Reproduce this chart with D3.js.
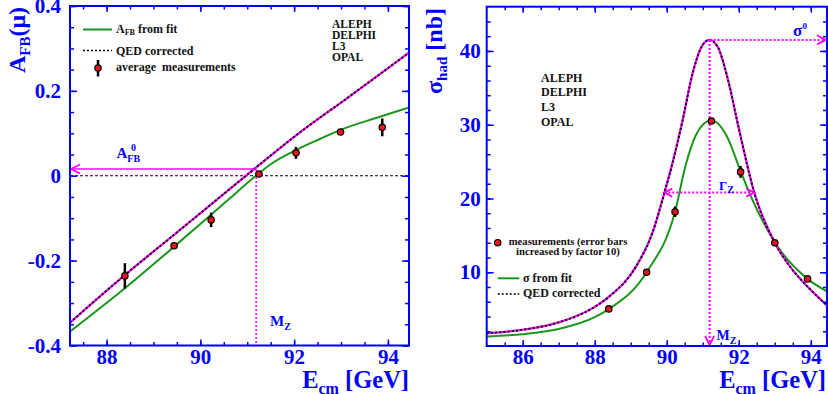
<!DOCTYPE html>
<html>
<head>
<meta charset="utf-8">
<script src="https://cdn.jsdelivr.net/npm/d3@7"></script>
<style>
body { margin: 0; background: #fff; }
svg { display: block; }
</style>
</head>
<body>
<script>
// ---- data ----
// left panel: forward-backward asymmetry of muons
var afbE   = [88.39, 89.44, 90.23, 91.25, 92.04, 92.99, 93.88];
var afbVal = [-0.236, -0.165, -0.104, 0.004, 0.054, 0.103, 0.114];
var afbErr = [0.030, 0.006, 0.017, 0.004, 0.014, 0.005, 0.021];

var afbFitE = [87.22, 88.39, 89.44, 90.63, 91.165, 91.485, 92.05, 92.55, 92.99, 93.83, 94.45];
var afbFitV = [-0.367, -0.265, -0.167, -0.053, -0.002, 0.026, 0.061, 0.0866, 0.108, 0.139, 0.161];

var afbQedE = [87.22, 88.39, 89.44, 90.3, 91.165, 92.05, 93.12, 94.45];
var afbQedV = [-0.346, -0.234, -0.139, -0.061, 0.0175, 0.096, 0.182, 0.29];

// right panel: hadronic cross section
var sigE   = [88.39, 89.44, 90.23, 91.24, 92.05, 93.0, 93.91];
var sigVal = [5.03, 10.0, 18.2, 30.5, 23.6, 14.0, 9.1];
var sigErr = [0.1, 0.15, 0.7, 0.3, 0.8, 0.2, 0.2];

var sigFitE = [85.0, 86.0, 87.0, 88.0, 88.39, 89.44, 90.23, 90.53, 90.81, 91.0, 91.25, 91.64, 92.06, 92.38, 93.0, 93.91, 94.45];
var sigFitV = [1.3, 1.6, 2.3, 3.9, 5.0, 10.0, 18.2, 24.6, 28.6, 30.0, 30.6, 28.7, 23.6, 19.8, 14.05, 9.1, 7.4];

var sigQedE = [85.0, 86.0, 87.0, 88.0, 88.4, 89.15, 89.6, 89.93, 90.16, 90.44, 90.72, 90.95, 91.18, 91.41, 91.69, 92.01, 92.43, 93.0, 93.45, 93.91, 94.45];
var sigQedV = [1.73, 2.2, 3.2, 5.3, 6.7, 10.8, 15.3, 20.7, 24.8, 30.6, 37.0, 40.4, 41.5, 40.6, 36.3, 29.3, 20.8, 14.0, 10.6, 8.05, 5.5];

// annotation values
var MZ = 91.19;
var AFB0 = 0.016;
var SIG0 = 41.5;
var gammaLo = 89.93, gammaHi = 92.43, halfMax = 20.8;

// ticks
var afbMajor = [-0.4, -0.2, 0, 0.2, 0.4];
var afbLabels = ["-0.4", "-0.2", "0", "0.2", "0.4"];
var afbMinor = d3.range(-0.4, 0.401, 0.05);
var eMajorL = [88, 90, 92, 94];
var eMajorR = [86, 88, 90, 92, 94];
var eMinorL = d3.range(87.5, 94.01, 0.5);
var eMinorR = d3.range(85.5, 94.01, 0.5);
var sigMajor = [10, 20, 30, 40];
var sigMinor = d3.range(2, 45, 2);

var experiments = ["ALEPH", "DELPHI", "L3", "OPAL"];

// ---- style ----
var BLUE = "#0000ff", MAG = "#ff00ff", GREEN = "#1a961a", RED = "#e8141c";
var FONT = "'Liberation Serif','Times New Roman',serif";

var svg = d3.select("body").append("svg").attr("width", 828).attr("height", 394);

var xL = d3.scaleLinear().domain([87.22, 94.45]).range([70, 409]);
var yL = d3.scaleLinear().domain([-0.4, 0.4]).range([345.5, 6]);
var xR = d3.scaleLinear().domain([85, 94.45]).range([486.7, 827]);
var yR = d3.scaleLinear().domain([0, 46]).range([346, 6.7]);

var translate = function(x, y) { return "translate(" + x + "," + y + ")"; };

var drawAxis = function(axis, x, y, fmt, pad) {
	axis.tickFormat(fmt || "").tickPadding(pad || 0);
	var g = svg.append("g").attr("transform", translate(x, y)).call(axis);
	g.select(".domain").remove();
	g.selectAll("line").attr("stroke", BLUE).attr("stroke-width", 1.5);
	g.attr("font-family", FONT).attr("font-size", 21).attr("font-weight", "bold");
	g.selectAll("text").attr("fill", BLUE);
	return g;
};

var clip = function(id, xs, ys) {
	svg.append("clipPath").attr("id", id).append("rect")
		.attr("x", xs.range()[0]).attr("y", ys.range()[1])
		.attr("width", xs.range()[1] - xs.range()[0])
		.attr("height", ys.range()[0] - ys.range()[1]);
};
clip("clipL", xL, yL);
clip("clipR", xR, yR);

var curve = function(parent, xs, ys, es, vs) {
	var line = d3.line().x(function(d) { return xs(d[0]); }).y(function(d) { return ys(d[1]); })
		.curve(d3.curveMonotoneX);
	return parent.append("path").datum(d3.zip(es, vs)).attr("d", line).attr("fill", "none");
};

// QED curves: magenta solid with black dots on top
var qedCurve = function(parent, xs, ys, es, vs) {
	curve(parent, xs, ys, es, vs).attr("stroke", MAG).attr("stroke-width", 2.2);
	curve(parent, xs, ys, es, vs).attr("stroke", "#000").attr("stroke-width", 1.9).attr("stroke-dasharray", "2,2.2");
};

var chevron = function(x, y, dx, dy) {
	// tip at x,y, opening toward (dx,dy)
	var px = -dy * 0.5, py = dx * 0.5;
	svg.append("path")
		.attr("d", "M" + (x + dx + px) + "," + (y + dy + py) + "L" + x + "," + y + "L" + (x + dx - px) + "," + (y + dy - py))
		.attr("fill", "none").attr("stroke", MAG).attr("stroke-width", 1.8);
};

var points = function(xs, ys, es, vs, errs) {
	var g = svg.append("g");
	es.forEach(function(e, i) {
		g.append("line").attr("x1", xs(e)).attr("x2", xs(e))
			.attr("y1", ys(vs[i] - errs[i])).attr("y2", ys(vs[i] + errs[i]))
			.attr("stroke", "#000").attr("stroke-width", 2.5);
		g.append("circle").attr("cx", xs(e)).attr("cy", ys(vs[i])).attr("r", 3.2)
			.attr("fill", RED).attr("stroke", "#000").attr("stroke-width", 1.2);
	});
};

var label = function(x, y, parts, size, anchor, fill) {
	var t = svg.append("text").attr("x", x).attr("y", y)
		.attr("font-family", FONT).attr("font-weight", "bold")
		.attr("fill", fill || BLUE).attr("text-anchor", anchor || "start")
		.style("white-space", "pre");
	parts.forEach(function(p) {
		t.append("tspan").text(p[0]).attr("font-size", p[1] || size).attr("dy", p[2] || 0);
	});
	return t;
};

// ================= left panel =================
var pL = svg.append("g").attr("clip-path", "url(#clipL)");

pL.append("line").attr("x1", xL(87.22)).attr("x2", xL(94.45)).attr("y1", yL(0)).attr("y2", yL(0))
	.attr("stroke", "#000").attr("stroke-width", 1).attr("stroke-dasharray", "3,2");

curve(pL, xL, yL, afbFitE, afbFitV).attr("stroke", GREEN).attr("stroke-width", 2);
qedCurve(pL, xL, yL, afbQedE, afbQedV);

// A_FB^0 arrow and M_Z line
svg.append("line").attr("x1", xL(MZ)).attr("x2", xL.range()[0] + 1).attr("y1", yL(AFB0)).attr("y2", yL(AFB0))
	.attr("stroke", MAG).attr("stroke-width", 1.6);
chevron(xL.range()[0] + 1, yL(AFB0), 9, 0);
svg.append("line").attr("x1", xL(MZ)).attr("x2", xL(MZ)).attr("y1", yL(AFB0)).attr("y2", yL(-0.4))
	.attr("stroke", MAG).attr("stroke-width", 1.6).attr("stroke-dasharray", "2,2");

points(xL, yL, afbE, afbVal, afbErr);

svg.append("rect").attr("x", 70).attr("y", 6).attr("width", 339).attr("height", 339.5)
	.attr("fill", "none").attr("stroke", BLUE).attr("stroke-width", 2);

drawAxis(d3.axisLeft(yL).tickValues(afbMajor).tickSize(-7), 70, 0, function(d, i) { return afbLabels[i]; }, 9);
drawAxis(d3.axisLeft(yL).tickValues(afbMinor).tickSize(-4), 70, 0);
drawAxis(d3.axisRight(yL).tickValues(afbMajor).tickSize(-7), 409, 0);
drawAxis(d3.axisRight(yL).tickValues(afbMinor).tickSize(-4), 409, 0);
drawAxis(d3.axisBottom(xL).tickValues(eMajorL).tickSize(-6), 0, 345.5, d3.format("d"), 3.5);
drawAxis(d3.axisBottom(xL).tickValues(eMinorL).tickSize(-3.5), 0, 345.5);
drawAxis(d3.axisTop(xL).tickValues(eMajorL).tickSize(-6), 0, 6);
drawAxis(d3.axisTop(xL).tickValues(eMinorL).tickSize(-3.5), 0, 6);

// titles
label(0, 0, [["A", 24], ["FB", 15, 5], ["(\u03bc)", 24, -5]], 24, "end")
	.attr("transform", translate(25, 7) + " rotate(-90)");
label(409, 388, [["E", 24.5], ["cm", 16, 6], [" [GeV]", 24.5, -6]], 24.5, "end");

// legend
svg.append("line").attr("x1", 83).attr("x2", 112).attr("y1", 29.5).attr("y2", 29.5)
	.attr("stroke", GREEN).attr("stroke-width", 2);
label(116, 33, [["A", 12], ["FB", 8, 2], [" from fit", 12, -2]], 12, "start", "#111");
svg.append("line").attr("x1", 83).attr("x2", 112).attr("y1", 50.5).attr("y2", 50.5)
	.attr("stroke", "#000").attr("stroke-width", 1.5).attr("stroke-dasharray", "2,2");
label(116, 54.5, [["QED corrected"]], 12, "start", "#111");
svg.append("line").attr("x1", 98).attr("x2", 98).attr("y1", 60).attr("y2", 76.5)
	.attr("stroke", "#000").attr("stroke-width", 2.5);
svg.append("circle").attr("cx", 98).attr("cy", 68).attr("r", 3.2)
	.attr("fill", RED).attr("stroke", "#000").attr("stroke-width", 1.2);
label(116, 71, [["average  measurements"]], 12, "start", "#111");

experiments.forEach(function(s, i) {
	label(332, 28.3 + i * 10.8, [[s]], 11.5, "start", "#111");
});

label(116.5, 157.5, [["A", 15], ["FB", 10, 4]], 15);
label(131, 151, [["0", 10]], 10);
label(270, 326, [["M", 15], ["Z", 10, 4]], 15);

// ================= right panel =================
var pR = svg.append("g").attr("clip-path", "url(#clipR)");
curve(pR, xR, yR, sigFitE, sigFitV).attr("stroke", GREEN).attr("stroke-width", 2);
qedCurve(pR, xR, yR, sigQedE, sigQedV);

var dotted = function(x1, y1, x2, y2) {
	svg.append("line").attr("x1", x1).attr("x2", x2).attr("y1", y1).attr("y2", y2)
		.attr("stroke", MAG).attr("stroke-width", 2).attr("stroke-dasharray", "2,2");
};
dotted(xR(MZ), yR(SIG0), xR(MZ), yR(0) - 1);
chevron(xR(MZ), yR(0) - 1, 0, -9);
dotted(xR(MZ), yR(SIG0), xR.range()[1] - 1, yR(SIG0));
chevron(xR.range()[1] - 1, yR(SIG0), -9, 0);
dotted(xR(gammaLo), yR(halfMax), xR(gammaHi), yR(halfMax));
chevron(xR(gammaLo), yR(halfMax), 8, 0);
chevron(xR(gammaHi), yR(halfMax), -8, 0);

points(xR, yR, sigE, sigVal, sigErr);

svg.append("rect").attr("x", 486.7).attr("y", 6.7).attr("width", 340.3).attr("height", 339.3)
	.attr("fill", "none").attr("stroke", BLUE).attr("stroke-width", 2);

drawAxis(d3.axisLeft(yR).tickValues(sigMajor).tickSize(-7), 486.7, 0, d3.format("d"), 6);
drawAxis(d3.axisLeft(yR).tickValues(sigMinor).tickSize(-4), 486.7, 0);
drawAxis(d3.axisRight(yR).tickValues(sigMajor).tickSize(-7), 827, 0);
drawAxis(d3.axisRight(yR).tickValues(sigMinor).tickSize(-4), 827, 0);
drawAxis(d3.axisBottom(xR).tickValues(eMajorR).tickSize(-6), 0, 346, d3.format("d"), 3.5);
drawAxis(d3.axisBottom(xR).tickValues(eMinorR).tickSize(-3.5), 0, 346);
drawAxis(d3.axisTop(xR).tickValues(eMajorR).tickSize(-6), 0, 6.7);
drawAxis(d3.axisTop(xR).tickValues(eMinorR).tickSize(-3.5), 0, 6.7);

label(0, 0, [["\u03c3", 24], ["had", 15, 5], [" [nb]", 24, -5]], 24, "end")
	.attr("transform", translate(442, 8) + " rotate(-90)");
label(826, 388, [["E", 24.5], ["cm", 16, 6], [" [GeV]", 24.5, -6]], 24.5, "end");

experiments.forEach(function(s, i) {
	label(541, 81.7 + i * 14.7, [[s]], 12, "start", "#111");
});

svg.append("circle").attr("cx", 497.7).attr("cy", 242.7).attr("r", 3.2)
	.attr("fill", RED).attr("stroke", "#000").attr("stroke-width", 1.2);
label(508.7, 244.5, [["measurements (error bars"]], 10.7, "start", "#111");
label(516, 254.5, [["increased by factor 10)"]], 10.7, "start", "#111");
svg.append("line").attr("x1", 497.7).attr("x2", 519.3).attr("y1", 278.3).attr("y2", 278.3)
	.attr("stroke", GREEN).attr("stroke-width", 2);
label(523, 281.5, [["\u03c3 from fit"]], 12, "start", "#111");
svg.append("line").attr("x1", 497.7).attr("x2", 519.3).attr("y1", 294).attr("y2", 294)
	.attr("stroke", "#000").attr("stroke-width", 1.5).attr("stroke-dasharray", "2,2");
label(523, 297, [["QED corrected"]], 12, "start", "#111");

label(793, 36, [["\u03c3", 17]], 17);
label(802.5, 28.5, [["0", 9]], 9);
label(719, 189.5, [["\u0393", 13], ["Z", 10, 3]], 13);
label(716.5, 339.5, [["M", 14], ["Z", 10, 4]], 14);
</script>
</body>
</html>
